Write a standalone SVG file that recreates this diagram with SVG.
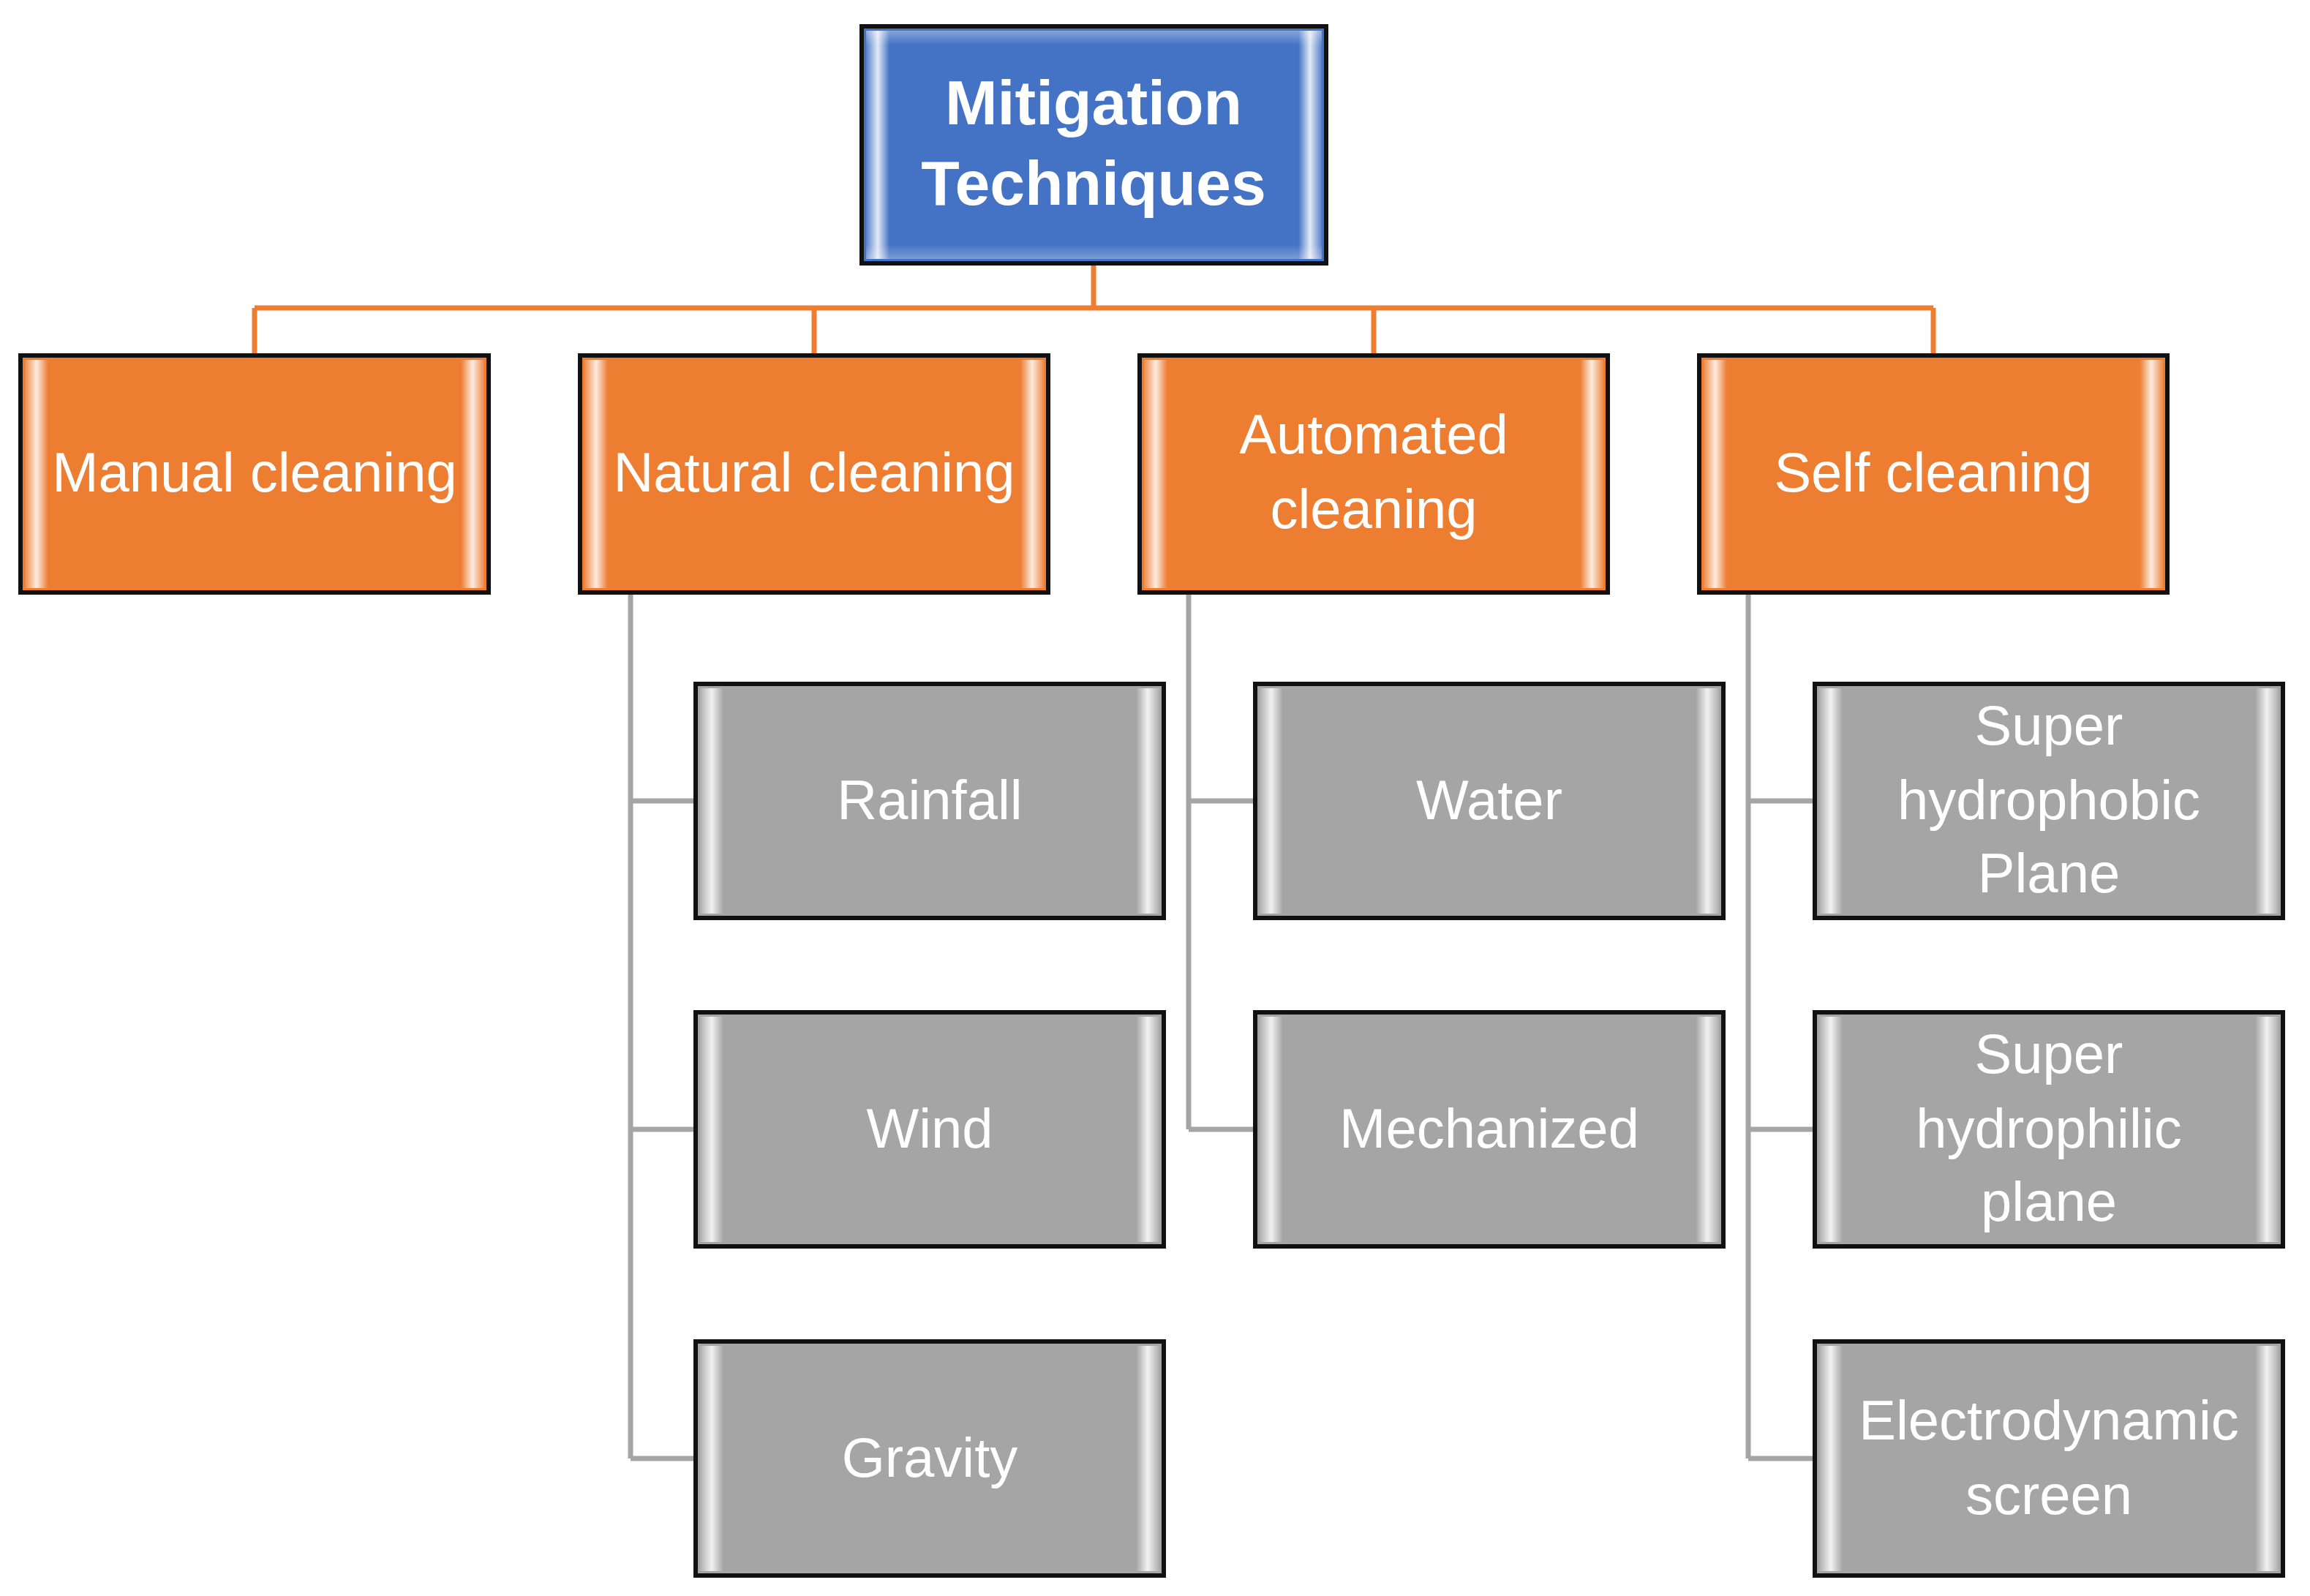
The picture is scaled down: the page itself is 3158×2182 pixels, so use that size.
<svg xmlns="http://www.w3.org/2000/svg" width="3158" height="2182" viewBox="0 0 3158 2182">
<defs>
<linearGradient id="ls" x1="0" x2="1" y1="0" y2="0"><stop offset="0" stop-color="#fff" stop-opacity="0.1"/><stop offset="0.5" stop-color="#fff" stop-opacity="0.85"/><stop offset="1" stop-color="#fff" stop-opacity="0"/></linearGradient>
<linearGradient id="rs" x1="1" x2="0" y1="0" y2="0"><stop offset="0" stop-color="#fff" stop-opacity="0.1"/><stop offset="0.5" stop-color="#fff" stop-opacity="0.85"/><stop offset="1" stop-color="#fff" stop-opacity="0"/></linearGradient>
<linearGradient id="ts" x1="0" x2="0" y1="0" y2="1"><stop offset="0" stop-color="#fff" stop-opacity="0.35"/><stop offset="1" stop-color="#fff" stop-opacity="0"/></linearGradient>
<linearGradient id="bs" x1="0" x2="0" y1="1" y2="0"><stop offset="0" stop-color="#fff" stop-opacity="0.3"/><stop offset="1" stop-color="#fff" stop-opacity="0"/></linearGradient>
</defs>
<style>
.b{stroke:#111;stroke-width:6}
.blue{fill:#4472c4}.or{fill:#ed7d31}.gr{fill:#a5a5a5}
text{font-family:"Liberation Sans","Open Sans",sans-serif;fill:#fff;text-anchor:middle}
.t{font-size:76px}
.h{font-size:86px;font-weight:bold}
.oc{stroke:#ed7d31;stroke-width:7;fill:none}
.gc{stroke:#a5a5a5;stroke-width:7;fill:none}
</style>
<g id="connectors">
<path class="oc" d="M1495 360V421M348 421H2643M348 421V486M1113 421V486M1878 421V486M2643 421V486"/>
<path class="gc" d="M862 810V1994M862 1095H951M862 1544H951M862 1994H951"/>
<path class="gc" d="M1625 810V1544M1625 1095H1716M1625 1544H1716"/>
<path class="gc" d="M2390 810V1994M2390 1095H2481M2390 1544H2481M2390 1994H2481"/>
</g>
<g id="root"><rect class="b blue" x="1178" y="36" width="635" height="324"/><rect x="1184" y="42" width="32" height="312" fill="url(#ls)"/><rect x="1775" y="42" width="32" height="312" fill="url(#rs)"/><rect x="1184" y="42" width="623" height="20" fill="url(#ts)"/><rect x="1184" y="334" width="623" height="20" fill="url(#bs)"/>
<text class="h" x="1495" y="170">Mitigation</text><text class="h" x="1495" y="280">Techniques</text></g>
<g id="manual"><rect class="b or" x="28" y="486" width="640" height="324"/><rect x="34" y="492" width="32" height="312" fill="url(#ls)"/><rect x="630" y="492" width="32" height="312" fill="url(#rs)"/><text class="t" x="348" y="672">Manual cleaning</text></g>
<g id="natural"><rect class="b or" x="793" y="486" width="640" height="324"/><rect x="799" y="492" width="32" height="312" fill="url(#ls)"/><rect x="1395" y="492" width="32" height="312" fill="url(#rs)"/><text class="t" x="1113" y="672">Natural cleaning</text></g>
<g id="automated"><rect class="b or" x="1558" y="486" width="640" height="324"/><rect x="1564" y="492" width="32" height="312" fill="url(#ls)"/><rect x="2160" y="492" width="32" height="312" fill="url(#rs)"/><text class="t" x="1878" y="620">Automated</text><text class="t" x="1878" y="722">cleaning</text></g>
<g id="self"><rect class="b or" x="2323" y="486" width="640" height="324"/><rect x="2329" y="492" width="32" height="312" fill="url(#ls)"/><rect x="2925" y="492" width="32" height="312" fill="url(#rs)"/><text class="t" x="2643" y="672">Self cleaning</text></g>
<g id="rainfall"><rect class="b gr" x="951" y="935" width="640" height="320"/><rect x="957" y="941" width="32" height="308" fill="url(#ls)"/><rect x="1553" y="941" width="32" height="308" fill="url(#rs)"/><text class="t" x="1271" y="1120">Rainfall</text></g>
<g id="wind"><rect class="b gr" x="951" y="1384" width="640" height="320"/><rect x="957" y="1390" width="32" height="308" fill="url(#ls)"/><rect x="1553" y="1390" width="32" height="308" fill="url(#rs)"/><text class="t" x="1271" y="1569">Wind</text></g>
<g id="gravity"><rect class="b gr" x="951" y="1834" width="640" height="320"/><rect x="957" y="1840" width="32" height="308" fill="url(#ls)"/><rect x="1553" y="1840" width="32" height="308" fill="url(#rs)"/><text class="t" x="1271" y="2019">Gravity</text></g>
<g id="water"><rect class="b gr" x="1716" y="935" width="640" height="320"/><rect x="1722" y="941" width="32" height="308" fill="url(#ls)"/><rect x="2318" y="941" width="32" height="308" fill="url(#rs)"/><text class="t" x="2036" y="1120">Water</text></g>
<g id="mechanized"><rect class="b gr" x="1716" y="1384" width="640" height="320"/><rect x="1722" y="1390" width="32" height="308" fill="url(#ls)"/><rect x="2318" y="1390" width="32" height="308" fill="url(#rs)"/><text class="t" x="2036" y="1569">Mechanized</text></g>
<g id="hydrophobic"><rect class="b gr" x="2481" y="935" width="640" height="320"/><rect x="2487" y="941" width="32" height="308" fill="url(#ls)"/><rect x="3083" y="941" width="32" height="308" fill="url(#rs)"/><text class="t" x="2801" y="1018">Super</text><text class="t" x="2801" y="1120">hydrophobic</text><text class="t" x="2801" y="1220">Plane</text></g>
<g id="hydrophilic"><rect class="b gr" x="2481" y="1384" width="640" height="320"/><rect x="2487" y="1390" width="32" height="308" fill="url(#ls)"/><rect x="3083" y="1390" width="32" height="308" fill="url(#rs)"/><text class="t" x="2801" y="1467">Super</text><text class="t" x="2801" y="1569">hydrophilic</text><text class="t" x="2801" y="1669">plane</text></g>
<g id="electro"><rect class="b gr" x="2481" y="1834" width="640" height="320"/><rect x="2487" y="1840" width="32" height="308" fill="url(#ls)"/><rect x="3083" y="1840" width="32" height="308" fill="url(#rs)"/><text class="t" x="2801" y="1968">Electrodynamic</text><text class="t" x="2801" y="2070">screen</text></g>
</svg>
